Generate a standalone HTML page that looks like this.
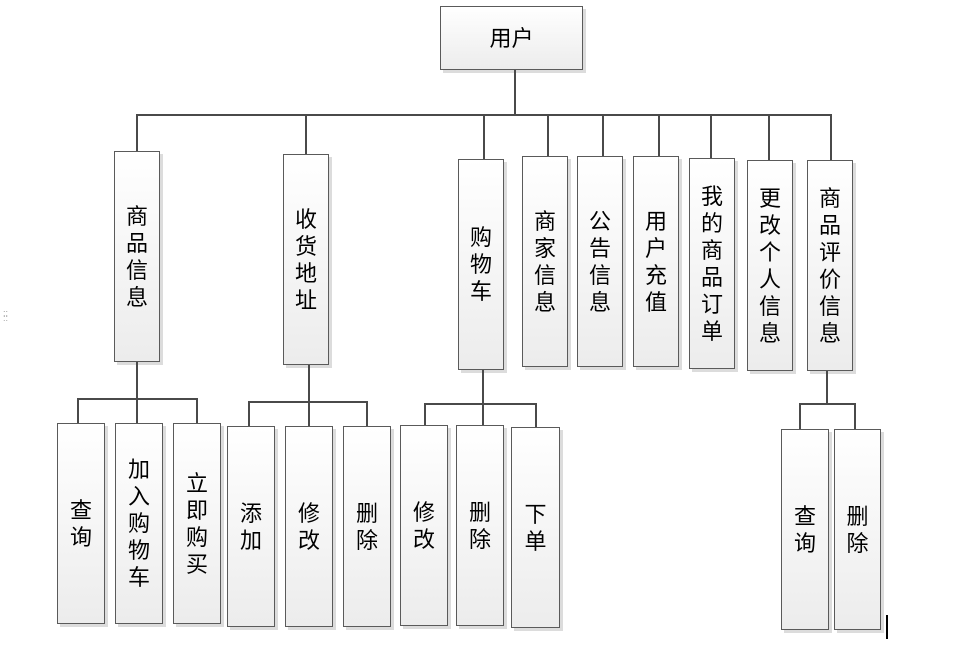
<!DOCTYPE html>
<html><head><meta charset="utf-8"><style>
body{margin:0;width:977px;height:652px;background:#fff;position:relative;overflow:hidden;font-family:"Liberation Sans","Noto Sans CJK SC",sans-serif;}
.b{position:absolute;box-sizing:border-box;border:1.5px solid #5a5a5a;background:linear-gradient(#fff,#ececec);box-shadow:3px 3px 0 #dcdcdc;display:flex;align-items:center;justify-content:center;text-align:center;font-size:22px;line-height:27px;color:#000;}
.l{position:absolute;background:#4a4a4a;}
.h{height:2px}.v{width:2px}
</style></head><body>
<div class="b" style="left:440px;top:6px;width:143px;height:64px">用户</div>
<div class="l v" style="left:514px;top:70px;height:46px"></div>
<div class="l h" style="left:136px;top:114px;width:696px"></div>
<div class="l v" style="left:136px;top:114px;height:38px"></div>
<div class="l v" style="left:305px;top:114px;height:40px"></div>
<div class="l v" style="left:483px;top:114px;height:45px"></div>
<div class="l v" style="left:547px;top:114px;height:42px"></div>
<div class="l v" style="left:602px;top:114px;height:42px"></div>
<div class="l v" style="left:658px;top:114px;height:42px"></div>
<div class="l v" style="left:710px;top:114px;height:44px"></div>
<div class="l v" style="left:768px;top:114px;height:46px"></div>
<div class="l v" style="left:830px;top:114px;height:46px"></div>

<div class="b" style="left:114px;top:151px;width:46px;height:211px">商<br>品<br>信<br>息</div>
<div class="b" style="left:283px;top:154px;width:46px;height:211px">收<br>货<br>地<br>址</div>
<div class="b" style="left:458px;top:159px;width:46px;height:211px">购<br>物<br>车</div>
<div class="b" style="left:522px;top:156px;width:46px;height:211px">商<br>家<br>信<br>息</div>
<div class="b" style="left:577px;top:156px;width:46px;height:211px">公<br>告<br>信<br>息</div>
<div class="b" style="left:633px;top:156px;width:46px;height:211px">用<br>户<br>充<br>值</div>
<div class="b" style="left:689px;top:158px;width:46px;height:211px">我<br>的<br>商<br>品<br>订<br>单</div>
<div class="b" style="left:747px;top:160px;width:46px;height:211px">更<br>改<br>个<br>人<br>信<br>息</div>
<div class="b" style="left:807px;top:160px;width:46px;height:211px">商<br>品<br>评<br>价<br>信<br>息</div>

<div class="l v" style="left:136px;top:362px;height:61px"></div>
<div class="l h" style="left:77px;top:398px;width:121px"></div>
<div class="l v" style="left:77px;top:398px;height:25px"></div>
<div class="l v" style="left:196px;top:398px;height:25px"></div>
<div class="b" style="left:57px;top:423px;width:48px;height:201px">查<br>询</div>
<div class="b" style="left:115px;top:423px;width:48px;height:201px">加<br>入<br>购<br>物<br>车</div>
<div class="b" style="left:173px;top:423px;width:48px;height:201px">立<br>即<br>购<br>买</div>

<div class="l v" style="left:308px;top:365px;height:61px"></div>
<div class="l h" style="left:248px;top:401px;width:120px"></div>
<div class="l v" style="left:248px;top:401px;height:25px"></div>
<div class="l v" style="left:366px;top:401px;height:25px"></div>
<div class="b" style="left:227px;top:426px;width:48px;height:201px">添<br>加</div>
<div class="b" style="left:285px;top:426px;width:48px;height:201px">修<br>改</div>
<div class="b" style="left:343px;top:426px;width:48px;height:201px">删<br>除</div>

<div class="l v" style="left:482px;top:370px;height:56px"></div>
<div class="l h" style="left:424px;top:403px;width:113px"></div>
<div class="l v" style="left:424px;top:403px;height:22px"></div>
<div class="l v" style="left:535px;top:403px;height:24px"></div>
<div class="b" style="left:400px;top:425px;width:48px;height:201px">修<br>改</div>
<div class="b" style="left:456px;top:425px;width:48px;height:201px">删<br>除</div>
<div class="b" style="left:511px;top:427px;width:49px;height:201px">下<br>单</div>

<div class="l v" style="left:826px;top:371px;height:33px"></div>
<div class="l h" style="left:799px;top:403px;width:57px"></div>
<div class="l v" style="left:799px;top:403px;height:26px"></div>
<div class="l v" style="left:854px;top:403px;height:26px"></div>
<div class="b" style="left:781px;top:429px;width:48px;height:201px">查<br>询</div>
<div class="b" style="left:834px;top:429px;width:47px;height:201px">删<br>除</div>
<div class="l" style="left:886px;top:615px;width:2px;height:24px;background:#000"></div>
<div style="position:absolute;left:3px;top:311px;color:#999;font-size:9px;line-height:5px">::<br>::</div>
</body></html>
